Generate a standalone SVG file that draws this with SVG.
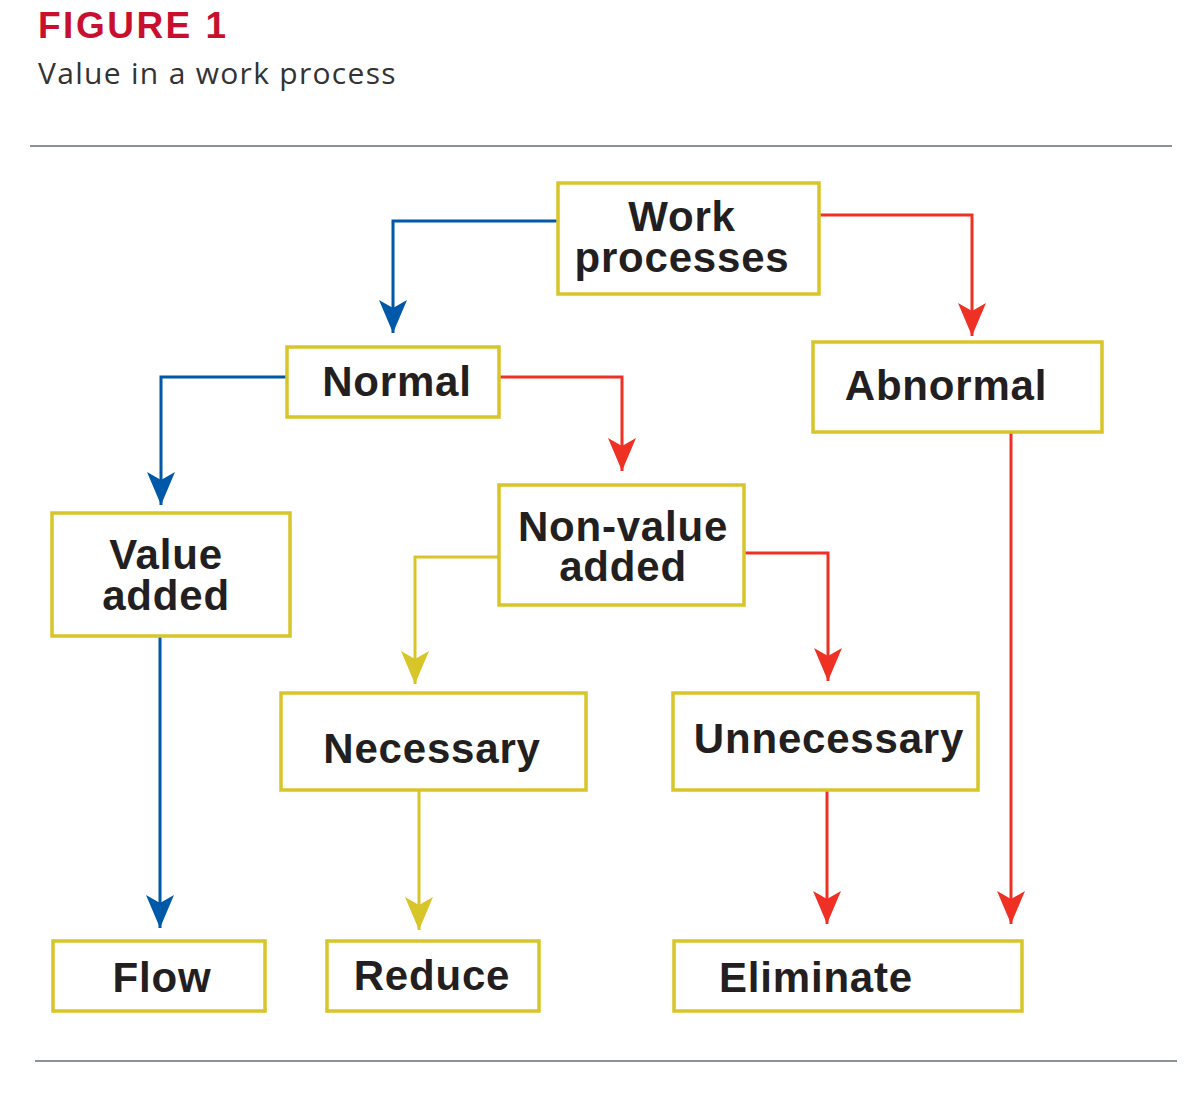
<svg xmlns="http://www.w3.org/2000/svg" width="1200" height="1101" viewBox="0 0 1200 1101">
<style>
.box{fill:#fff;stroke:#d8c52a;stroke-width:3.5}
.t{font-family:"Liberation Sans",Arial,sans-serif;font-weight:bold;font-size:42px;fill:#231f20;text-anchor:middle;letter-spacing:0.8px}
.c{fill:none;stroke-width:3}
.b{stroke:#0058a8}.r{stroke:#ee3124}.y{stroke:#d8c52a}
</style>
<defs>
<marker id="ab" markerUnits="userSpaceOnUse" markerWidth="34" markerHeight="30" refX="33" refY="15" orient="auto"><path d="M0,1 L33,15 L0,29 L8,15 Z" fill="#0058a8"/></marker>
<marker id="ar" markerUnits="userSpaceOnUse" markerWidth="34" markerHeight="30" refX="33" refY="15" orient="auto"><path d="M0,1 L33,15 L0,29 L8,15 Z" fill="#ee3124"/></marker>
<marker id="ay" markerUnits="userSpaceOnUse" markerWidth="34" markerHeight="30" refX="33" refY="15" orient="auto"><path d="M0,1 L33,15 L0,29 L8,15 Z" fill="#d8c52a"/></marker>
</defs>
<rect width="1200" height="1101" fill="#fff"/>
<text x="38" y="38" font-family="'Liberation Sans',Arial,sans-serif" font-weight="bold" font-size="37" fill="#c8102e" letter-spacing="2.5">FIGURE 1</text>
<text x="38" y="84" font-family="'Open Sans','Liberation Sans',sans-serif" font-size="30" fill="#333" letter-spacing="1.3">Value in a work process</text>
<line x1="30" y1="146" x2="1172" y2="146" stroke="#8a9399" stroke-width="2"/>
<line x1="35" y1="1061" x2="1177" y2="1061" stroke="#8a9399" stroke-width="2"/>
<g id="connectors">
<path class="c b" d="M558,221 H393 V333" marker-end="url(#ab)"/>
<path class="c r" d="M819,215 H972 V336" marker-end="url(#ar)"/>
<path class="c b" d="M287,377 H161 V505" marker-end="url(#ab)"/>
<path class="c r" d="M499,377 H622 V471" marker-end="url(#ar)"/>
<path class="c y" d="M499,557 H415 V684" marker-end="url(#ay)"/>
<path class="c r" d="M744,553 H828 V681" marker-end="url(#ar)"/>
<path class="c b" d="M160,636 V928" marker-end="url(#ab)"/>
<path class="c y" d="M419,790 V930" marker-end="url(#ay)"/>
<path class="c r" d="M827,790 V924" marker-end="url(#ar)"/>
<path class="c r" d="M1011,432 V924" marker-end="url(#ar)"/>
</g>
<g id="work"><rect class="box" x="558" y="183" width="261" height="111"/><text class="t" x="682" y="231">Work</text><text class="t" x="682" y="272">processes</text></g>
<g id="normal"><rect class="box" x="287" y="347" width="212" height="70"/><text class="t" x="397" y="396">Normal</text></g>
<g id="abnormal"><rect class="box" x="813" y="342" width="289" height="90"/><text class="t" x="946" y="400">Abnormal</text></g>
<g id="valueadded"><rect class="box" x="52" y="513" width="238" height="123"/><text class="t" x="166" y="569">Value</text><text class="t" x="166" y="610">added</text></g>
<g id="nonvalue"><rect class="box" x="499" y="485" width="245" height="120"/><text class="t" x="623" y="541">Non-value</text><text class="t" x="623" y="581">added</text></g>
<g id="necessary"><rect class="box" x="281" y="693" width="305" height="97"/><text class="t" x="432" y="763">Necessary</text></g>
<g id="unnecessary"><rect class="box" x="673" y="693" width="305" height="97"/><text class="t" x="829" y="753">Unnecessary</text></g>
<g id="flow"><rect class="box" x="53" y="941" width="212" height="70"/><text class="t" x="162" y="992">Flow</text></g>
<g id="reduce"><rect class="box" x="327" y="941" width="212" height="70"/><text class="t" x="432" y="990">Reduce</text></g>
<g id="eliminate"><rect class="box" x="674" y="941" width="348" height="70"/><text class="t" x="816" y="992">Eliminate</text></g>
</svg>
